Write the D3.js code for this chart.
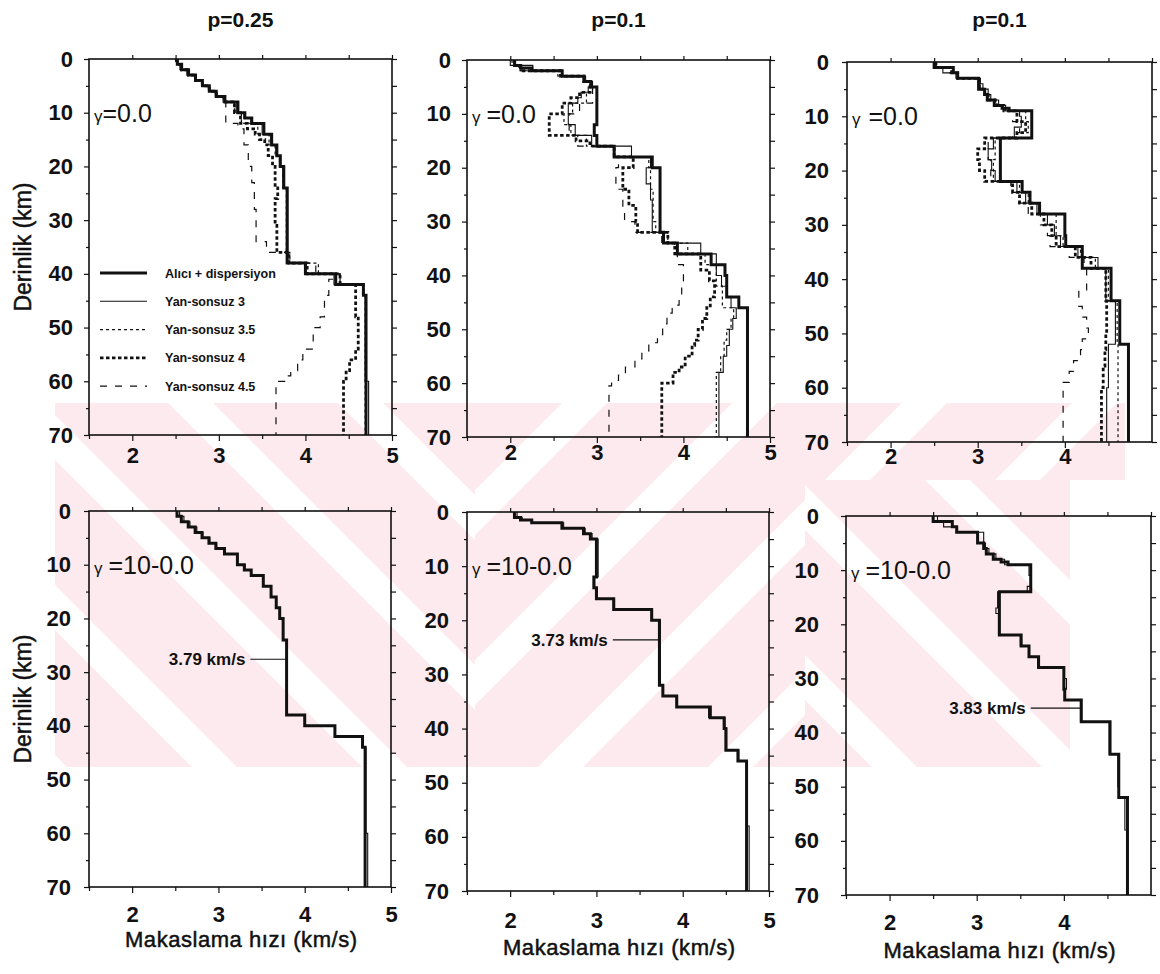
<!DOCTYPE html>
<html>
<head>
<meta charset="utf-8">
<script src="https://cdn.jsdelivr.net/npm/d3@7"></script>
<style>
  body { margin: 0; background: #fff; }
  svg { display: block; font-family: "Liberation Sans", Arial, sans-serif; }
</style>
</head>
<body>
<svg id="chart"></svg>
<script>
var width = 1160, height = 974;
var svg = d3.select("#chart").attr("width", width).attr("height", height);

// legend names (same order as the line styles below)
var seriesNames = ["Alıcı + dispersiyon", "Yan-sonsuz 3", "Yan-sonsuz 3.5", "Yan-sonsuz 4", "Yan-sonsuz 4.5"];
var titles = ["p=0.25", "p=0.1", "p=0.1"];
var gammaTop = "=0.0", gammaBottom = "=10-0.0";
var depthTicks = [0, 10, 20, 30, 40, 50, 60, 70];
var velTicks = [2, 3, 4, 5];

// step profiles: [layer top depth (km), shear velocity (km/s)]
// p = 0.25, gamma = 0.0
var alici25 = [[0,2.52],[1,2.57],[2,2.65],[3,2.73],[4,2.81],[5,2.89],[6,2.97],[7,3.07],[8,3.22],[10,3.30],[11,3.38],[12,3.52],[14,3.61],[16,3.67],[18,3.71],[20,3.75],[24,3.79],[38,4.00],[40,4.35],[42,4.67],[44,4.70]];
var yan3_25 = [[0,2.52],[1,2.55],[2,2.63],[3,2.72],[4,2.80],[5,2.88],[6,2.96],[7,3.05],[8,3.20],[10,3.29],[11,3.37],[12,3.50],[14,3.60],[16,3.66],[18,3.70],[20,3.74],[24,3.78],[38,4.00],[40,4.33],[42,4.66],[44,4.69],[60,4.73]];
var yan35_25 = [[0,2.50],[1,2.56],[2,2.64],[3,2.72],[4,2.80],[5,2.88],[6,2.96],[7,3.05],[8,3.18],[10,3.26],[12,3.45],[14,3.58],[16,3.65],[18,3.70],[20,3.74],[24,3.78],[36,3.82],[38,4.15],[40,4.40],[42,4.66],[44,4.69]];
var yan4_25 = [[0,2.52],[1,2.57],[2,2.65],[3,2.73],[4,2.81],[5,2.89],[6,2.97],[7,3.06],[8,3.18],[10,3.25],[12,3.33],[13,3.42],[14,3.47],[15,3.53],[16,3.57],[18,3.62],[20,3.65],[24,3.68],[26,3.65],[31,3.67],[36,3.81],[38,4.02],[40,4.40],[42,4.58],[48,4.61],[54,4.58],[56,4.51],[58,4.47],[60,4.44]];
var yan45_25 = [[0,2.52],[1,2.57],[2,2.65],[3,2.73],[4,2.81],[5,2.89],[6,2.97],[7,3.06],[8,3.08],[12,3.22],[13,3.29],[16,3.34],[20,3.38],[23,3.41],[28,3.43],[34,3.55],[36,3.80],[38,4.12],[40,4.40],[41,4.27],[44,4.22],[48,4.17],[50,4.09],[54,3.97],[56,3.91],[58,3.83],[59,3.76],[60,3.66]];

// p = 0.1 (middle), gamma = 0.0
var alici10a = [[0,2.05],[1,2.12],[1.5,2.25],[2,2.60],[3,2.85],[4,2.93],[5,3.00],[12,2.97],[14,3.00],[16,3.20],[18,3.64],[20,3.73],[32,3.77],[34,3.93],[36,4.32],[38,4.48],[40,4.50],[44,4.64],[46,4.74]];
var yan3_10a = [[0,2.00],[1,2.26],[2,2.60],[3,2.87],[4,2.95],[5,2.90],[6,2.82],[7,2.78],[8,2.67],[12,2.75],[14,2.94],[16,3.40],[18,3.62],[20,3.57],[23,3.62],[26,3.64],[32,3.77],[34,4.20],[36,4.38],[40,4.44],[42,4.50],[44,4.55],[46,4.61],[48,4.57],[50,4.53],[53,4.50],[55,4.46],[58,4.41]];
var yan35_10a = [[0,2.02],[1,2.10],[2,2.55],[3,2.85],[4,2.92],[5,2.95],[6,2.88],[8,2.72],[10,2.62],[12,2.70],[14,2.88],[16,3.20],[18,3.60],[20,3.62],[24,3.65],[30,3.68],[32,3.82],[34,4.05],[36,4.25],[38,4.38],[42,4.45],[46,4.58],[48,4.55],[50,4.50],[52,4.47],[55,4.43],[58,4.38]];
var yan4_10a = [[0,2.05],[1,2.12],[2,2.58],[3,2.85],[4,2.93],[5,2.92],[6,2.80],[7,2.70],[8,2.60],[10,2.45],[14,2.76],[15,2.92],[16,3.20],[18,3.42],[20,3.30],[24,3.37],[27,3.45],[30,3.47],[32,3.82],[34,3.90],[36,4.20],[39,4.30],[41,4.36],[44,4.31],[46,4.27],[48,4.22],[50,4.17],[52,4.13],[53,4.10],[55,4.02],[57,3.95],[58,3.88],[60,3.75]];
var yan45_10a = [[0,2.05],[1,2.12],[2,2.58],[3,2.85],[4,2.93],[5,2.95],[8,2.80],[10,2.68],[14,2.78],[16,3.20],[18,3.25],[20,3.22],[24,3.30],[28,3.32],[30,3.44],[32,3.75],[34,3.90],[36,3.93],[38,4.00],[41,3.98],[44,3.95],[45.5,3.87],[47,3.81],[49,3.76],[51,3.70],[52.5,3.60],[54,3.52],[55.5,3.44],[57,3.33],[58.5,3.25],[59.5,3.17],[60.5,3.14]];

// p = 0.1 (right), gamma = 0.0
var alici10b = [[0,2.50],[1,2.72],[2,2.77],[3,3.01],[5,3.08],[6,3.11],[7,3.19],[8,3.28],[8.5,3.36],[9,3.62],[14,3.26],[22,3.51],[24,3.60],[26,3.71],[28,4.00],[32,4.01],[34,4.20],[38,4.53],[44,4.63],[52,4.73]];
var yan3_10b = [[0,2.52],[1,2.60],[2,2.75],[3,3.03],[4,3.06],[5,3.12],[6,3.15],[7,3.24],[8,3.32],[9,3.48],[10,3.50],[12,3.42],[14,3.18],[16,3.12],[18,3.16],[20,3.20],[22,3.45],[24,3.55],[26,3.68],[28,3.80],[30,3.88],[32,3.95],[34,4.15],[36,4.38],[38,4.47],[44,4.58],[52,4.50],[60,4.48]];
var yan35_10b = [[0,2.52],[1,2.68],[2,2.76],[3,3.02],[5,3.08],[6,3.13],[7,3.22],[8,3.30],[9,3.55],[11,3.58],[13,3.50],[14,3.20],[18,3.18],[22,3.48],[24,3.58],[26,3.70],[28,3.90],[32,3.98],[34,4.18],[36,4.35],[38,4.50],[44,4.60],[52,4.61]];
var yan4_10b = [[0,2.52],[1,2.70],[2,2.77],[3,3.02],[5,3.08],[6,3.12],[7,3.20],[8,3.30],[9,3.45],[11,3.55],[13,3.45],[14,3.08],[16,3.00],[18,3.02],[20,3.08],[22,3.40],[24,3.48],[26,3.62],[28,3.76],[30,3.85],[32,3.90],[34,4.12],[36,4.30],[38,4.47],[44,4.48],[50,4.47],[53,4.46],[56,4.44],[60,4.42]];
var yan45_10b = [[0,2.52],[1,2.70],[2,2.77],[3,3.02],[5,3.08],[6,3.12],[7,3.20],[8,3.28],[9,3.40],[11,3.48],[13,3.40],[14,3.12],[18,3.15],[22,3.38],[24,3.47],[26,3.58],[28,3.72],[30,3.80],[32,3.83],[34,4.05],[36,4.22],[38,4.25],[42,4.16],[45,4.20],[47,4.25],[49,4.27],[51,4.20],[53,4.18],[55,4.10],[57,4.05],[59,3.98]];

// gamma = 10-0.0: the half-space models almost coincide with the receiver + dispersion model
var g10_25 = [[0,2.55],[1,2.60],[2,2.67],[3,2.75],[4,2.82],[5,2.90],[6,2.98],[7,3.08],[8,3.22],[10,3.31],[11,3.38],[12,3.52],[14,3.61],[16,3.67],[18,3.71],[20,3.75],[24,3.79],[38,4.00],[40,4.35],[42,4.67],[44,4.71],[60,4.73]];
var g10_10a = [[0,2.08],[1,2.14],[1.5,2.26],[2,2.62],[3,2.87],[4,2.95],[5,3.02],[12,2.98],[14,3.01],[16,3.21],[18,3.65],[20,3.74],[32,3.77],[34,3.94],[36,4.30],[38,4.49],[40,4.51],[44,4.65],[46,4.75],[58,4.77]];
var g10_10b = [[0,2.55],[1,2.62],[2,2.78],[3,3.08],[5,3.10],[6,3.14],[7,3.22],[8,3.32],[9,3.60],[11,3.62],[13,3.58],[14,3.24],[17,3.22],[18,3.25],[22,3.50],[24,3.60],[26,3.70],[28,4.00],[30,4.03],[32,4.01],[34,4.19],[38,4.52],[44,4.62],[50,4.63],[52,4.70],[58,4.72]];

// annotations of the bottom row: text, depth, leader start, leader end (km/s)
var notes = [["3.79 km/s", 27.6, 3.37, 3.79], ["3.73 km/s", 23.6, 3.19, 3.74], ["3.83 km/s", 35.5, 3.62, 4.19]];

// line styles: thick solid, thin solid, fine dash, heavy dots, long dash
var lineStyles = [
  {w: 3.0, dash: null},
  {w: 1.1, dash: null},
  {w: 1.2, dash: "3,3"},
  {w: 2.8, dash: "3.5,2.5"},
  {w: 1.2, dash: "7,8"}
];

var panels = [
  {x0: 89, x1: 392, y0: 59, y1: 435, title: titles[0], g: gammaTop, gSpace: 0, series: [alici25, yan3_25, yan35_25, yan4_25, yan45_25], styles: [0,1,2,3,4], yPad: 11, tickBase: 463, xTicks: velTicks, yTitle: true, legend: true},
  {x0: 467, x1: 770, y0: 60, y1: 437, title: titles[1], g: gammaTop, gSpace: 6, series: [alici10a, yan3_10a, yan35_10a, yan4_10a, yan45_10a], styles: [0,1,2,3,4], yPad: 11, tickBase: 460, xTicks: velTicks},
  {x0: 847, x1: 1152, y0: 62, y1: 442, title: titles[2], g: gammaTop, gSpace: 8, series: [alici10b, yan3_10b, yan35_10b, yan4_10b, yan45_10b], styles: [0,1,2,3,4], yPad: 13, tickBase: 464, xTicks: [2,3,4]},
  {x0: 89, x1: 391, y0: 511, y1: 887, g: gammaBottom, gSpace: 6, series: [g10_25, alici25], styles: [1,0], yPad: 13, tickBase: 922, titleBase: 947, xTicks: velTicks, yTitle: true, note: notes[0]},
  {x0: 467, x1: 769, y0: 512, y1: 891, g: gammaBottom, gSpace: 6, series: [g10_10a, alici10a], styles: [1,0], yPad: 13, tickBase: 928, titleBase: 955, xTicks: velTicks, note: notes[1]},
  {x0: 846, x1: 1151, y0: 516, y1: 895, g: gammaBottom, gSpace: 6, series: [g10_10b, alici10b], styles: [1,0], yPad: 22, tickBase: 930, titleBase: 958, xTicks: [2,3,4], note: notes[2]}
];

var ink = "#111";
var tickFont = 22;

// faint thesis watermark behind the plots (pale diagonal bands)
var wm = svg.append("g");
var defs = svg.append("defs");
var zones = [
  {id: "wmA", x: 55, y: 403, w: 420, h: 364, dir: 1},
  {id: "wmB", x: 475, y: 403, w: 330, h: 364, dir: -1},
  {id: "wmC", x: 805, y: 403, w: 320, h: 77, dir: -1},
  {id: "wmD", x: 805, y: 480, w: 265, h: 287, dir: 1}
];
zones.forEach(function(z) {
  defs.append("clipPath").attr("id", z.id).append("rect")
      .attr("x", z.x).attr("y", z.y).attr("width", z.w).attr("height", z.h);
  var zg = wm.append("g").attr("clip-path", "url(#" + z.id + ")");
  d3.range(-8, 12).forEach(function(k) {
    var c = k * 170 - 20, bw = 125;
    var y0 = 403, y1 = 767;
    var pts = z.dir > 0
      ? [[c + y0, y0], [c + bw + y0, y0], [c + bw + y1, y1], [c + y1, y1]]
      : [[c - y0 + 1200, y0], [c + bw - y0 + 1200, y0], [c + bw - y1 + 1200, y1], [c - y1 + 1200, y1]];
    zg.append("polygon").attr("points", pts.map(function(p) { return p.join(","); }).join(" "))
        .attr("fill", "#fdeaee");
  });
});

function stepPoints(prof) {
  var pts = [];
  prof.forEach(function(p, i) {
    var next = i < prof.length - 1 ? prof[i + 1][0] : 70;
    pts.push([p[1], p[0]]);
    pts.push([p[1], next]);
  });
  return pts;
}

panels.forEach(function(p) {
  var x = d3.scaleLinear().domain([1.5, 5]).range([p.x0, p.x1]);
  var y = d3.scaleLinear().domain([0, 70]).range([p.y0, p.y1]);
  var g = svg.append("g");

  // axes: left with labels, minor ticks, and the three other sides
  var left = g.append("g").attr("transform", "translate(" + p.x0 + ",0)")
      .call(d3.axisLeft(y).tickValues(depthTicks).tickSize(5).tickPadding(p.yPad).tickSizeOuter(0));
  left.selectAll("text").attr("font-size", tickFont).attr("font-weight", "bold")
      .attr("fill", ink).attr("font-family", "Liberation Sans, Arial");
  g.append("g").attr("transform", "translate(" + p.x0 + ",0)")
      .call(d3.axisLeft(y).tickValues(d3.range(5, 70, 10)).tickSize(3).tickFormat("").tickSizeOuter(0));
  g.append("g").attr("transform", "translate(" + p.x1 + ",0)")
      .call(d3.axisRight(y).tickValues(d3.range(0, 71, 5)).tickSize(5).tickFormat("").tickSizeOuter(0));
  g.append("g").attr("transform", "translate(0," + p.y0 + ")")
      .call(d3.axisTop(x).tickValues(d3.range(2, 5.01, 0.5)).tickSize(4).tickFormat("").tickSizeOuter(0));
  var bottom = g.append("g").attr("transform", "translate(0," + p.y1 + ")")
      .call(d3.axisBottom(x).tickValues(p.xTicks).tickSize(6).tickFormat(d3.format("d")).tickSizeOuter(0));
  bottom.selectAll("text").attr("font-size", tickFont).attr("font-weight", "bold")
      .attr("fill", ink).attr("font-family", "Liberation Sans, Arial")
      .attr("dy", null).attr("y", p.tickBase - p.y1);
  g.append("g").attr("transform", "translate(0," + p.y1 + ")")
      .call(d3.axisBottom(x).tickValues([1.5, 2.5, 3.5, 4.5]).tickSize(4).tickFormat("").tickSizeOuter(0));
  g.selectAll(".domain").remove();
  g.selectAll(".tick line").attr("stroke", ink).attr("stroke-width", 1.2);

  // frame
  g.append("rect").attr("x", p.x0).attr("y", p.y0)
      .attr("width", p.x1 - p.x0).attr("height", p.y1 - p.y0)
      .attr("fill", "none").attr("stroke", ink).attr("stroke-width", 1.6);

  // profiles
  var line = d3.line().x(function(d) { return x(d[0]); }).y(function(d) { return y(d[1]); });
  p.series.forEach(function(s, i) {
    var st = lineStyles[p.styles[i]];
    g.append("path").attr("d", line(stepPoints(s)))
        .attr("fill", "none").attr("stroke", ink)
        .attr("stroke-width", st.w)
        .attr("stroke-dasharray", st.dash)
        .attr("stroke-linejoin", "miter");
  });

  // gamma label
  var gl = g.append("text").attr("x", p.x0 + 5).attr("y", y(10) + 9).attr("fill", ink);
  gl.append("tspan").attr("font-size", 17).text("γ");
  gl.append("tspan").attr("font-size", 25).attr("dx", p.gSpace).text(p.g);

  if (p.title) {
    svg.append("text").attr("x", (p.x0 + p.x1) / 2).attr("y", 27)
        .attr("text-anchor", "middle").attr("font-size", 21).attr("font-weight", "bold")
        .attr("fill", ink).text(p.title);
  }
  if (p.yTitle) {
    svg.append("text")
        .attr("transform", "translate(31," + ((p.y0 + p.y1) / 2) + ") rotate(-90)")
        .attr("text-anchor", "middle").attr("font-size", 23).attr("fill", ink)
        .attr("stroke", ink).attr("stroke-width", 0.5)
        .text("Derinlik (km)");
  }
  if (p.titleBase) {
    svg.append("text").attr("x", (p.x0 + p.x1) / 2 + 1).attr("y", p.titleBase)
        .attr("text-anchor", "middle").attr("font-size", 22).attr("fill", ink)
        .attr("stroke", ink).attr("stroke-width", 0.5)
        .attr("textLength", 232).attr("lengthAdjust", "spacing")
        .text("Makaslama hızı (km/s)");
  }
  if (p.note) {
    var n = p.note;
    g.append("line").attr("x1", x(n[2])).attr("x2", x(n[3]))
        .attr("y1", y(n[1])).attr("y2", y(n[1]))
        .attr("stroke", ink).attr("stroke-width", 1.2);
    g.append("text").attr("x", x(n[2]) - 5).attr("y", y(n[1]) + 6)
        .attr("text-anchor", "end").attr("font-size", 17).attr("font-weight", "bold")
        .attr("fill", ink).text(n[0]);
  }

  if (p.legend) {
    var lg = g.append("g");
    seriesNames.forEach(function(name, i) {
      var ly = 273 + i * 28.3;
      var st = lineStyles[i];
      lg.append("line").attr("x1", 100).attr("x2", 147).attr("y1", ly).attr("y2", ly)
          .attr("stroke", ink).attr("stroke-width", st.w).attr("stroke-dasharray", st.dash);
      lg.append("text").attr("x", 165).attr("y", ly + 4.5)
          .attr("font-size", 12.5).attr("font-weight", "bold").attr("fill", ink).text(name);
    });
  }
});
</script>
</body>
</html>
